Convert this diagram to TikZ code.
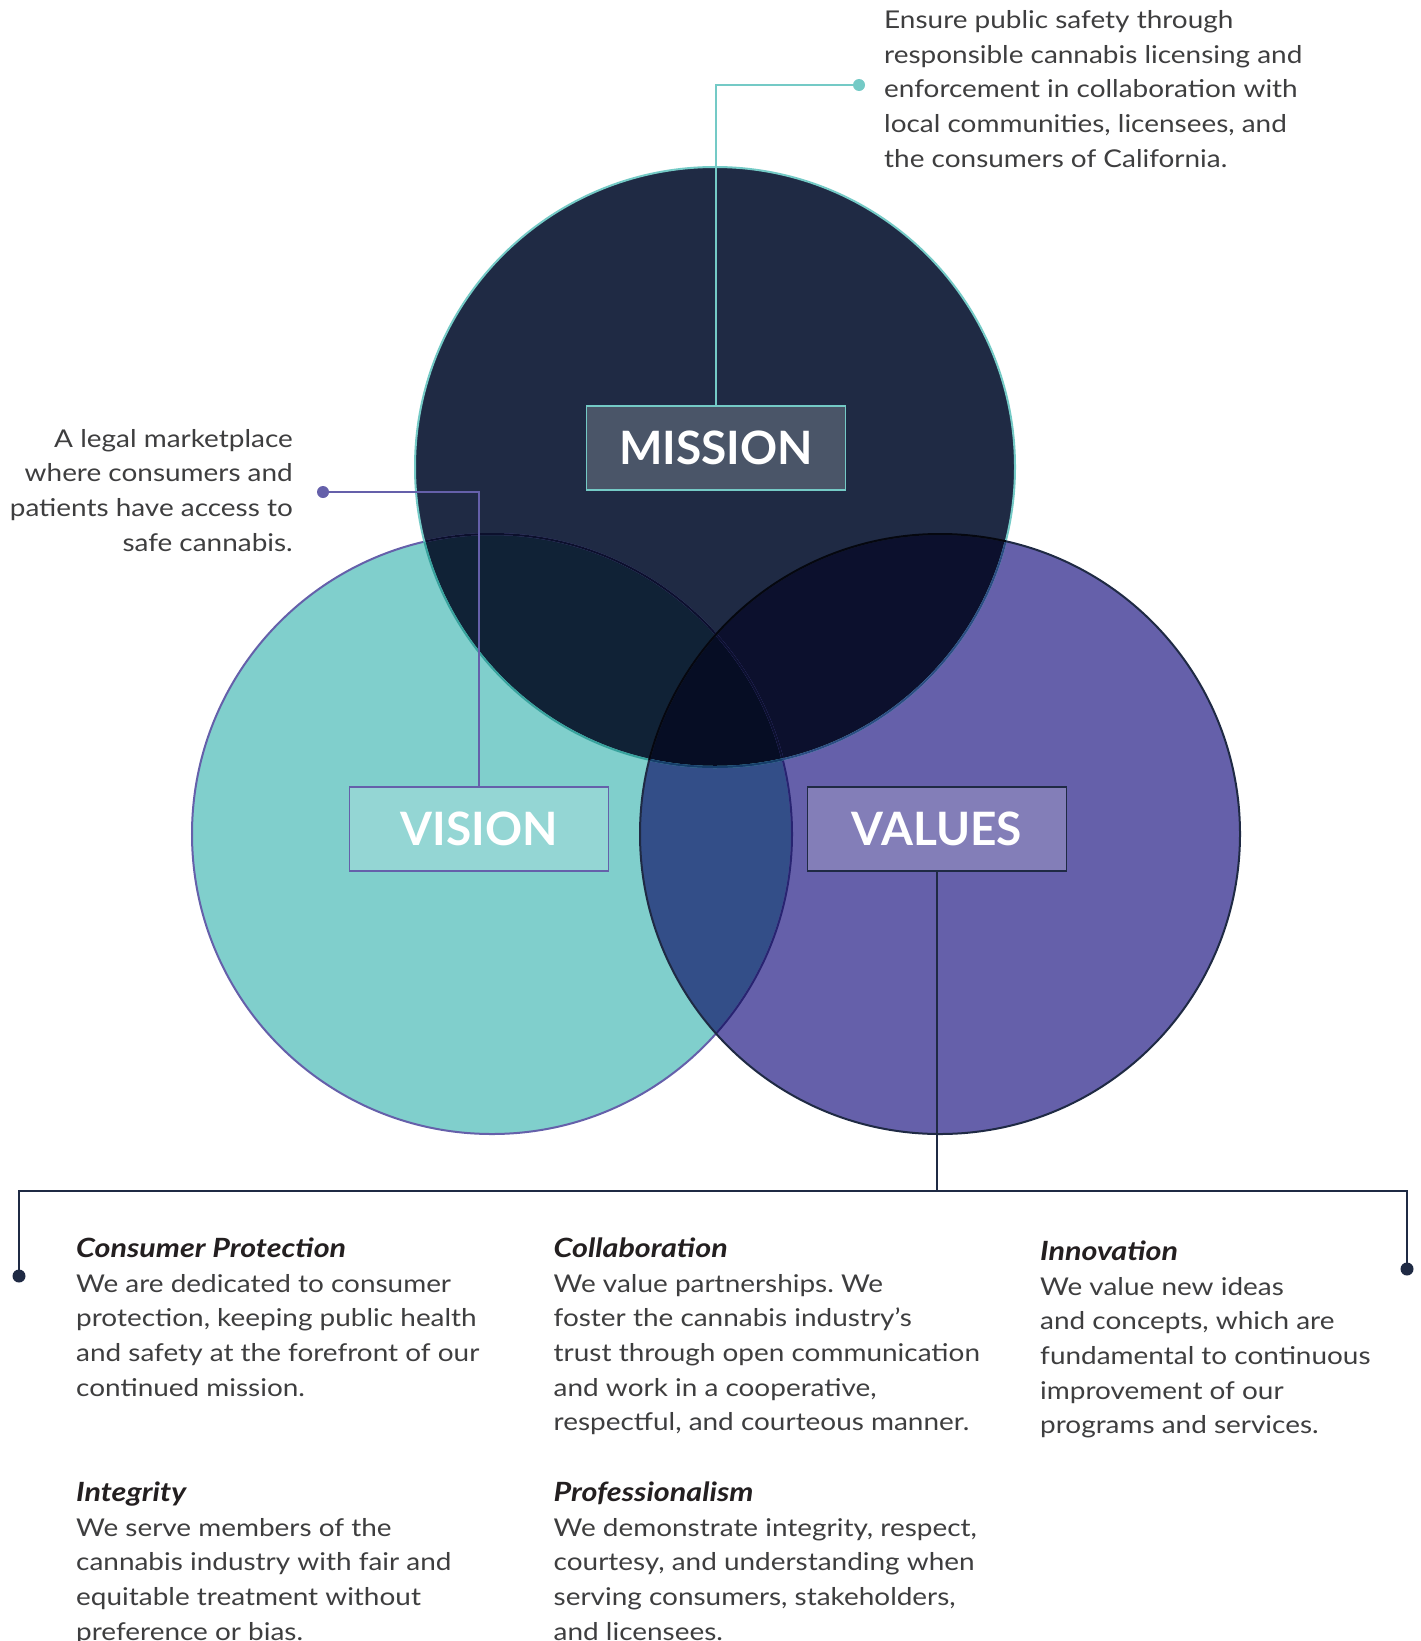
\documentclass[tikz,border=0pt]{standalone}
\usepackage{fontspec}
\setmainfont{Lato}[FakeStretch=1.14]
\newfontfamily\headfont{Lato}[FakeStretch=1.15]
\newfontfamily\labelfont{Lato}
\frenchspacing
\definecolor{cnavy}{HTML}{1F2A44}
\definecolor{cteal}{HTML}{80CFCC}
\definecolor{cpurple}{HTML}{6560AA}
\definecolor{ctealline}{HTML}{74CAC6}
\definecolor{cVVa}{HTML}{334E88}
\definecolor{cMV}{HTML}{102236}
\definecolor{cMVa}{HTML}{0C102D}
\definecolor{cMVVa}{HTML}{060D24}
\definecolor{cmissbox}{HTML}{4A5568}
\definecolor{cvisbox}{HTML}{94D6D4}
\definecolor{cvalbox}{HTML}{837EB8}
\definecolor{cbody}{HTML}{3E3E3F}
\definecolor{chead}{HTML}{231F20}
\definecolor{cTT}{HTML}{38A29D}
\definecolor{cTP}{HTML}{2C4B83}
\definecolor{cTTP}{HTML}{163D69}
\definecolor{cPP}{HTML}{282471}
\definecolor{cNN}{HTML}{05070F}
\newcommand{\valhead}[1]{{\headfont\fontsize{26.5bp}{34.6bp}\selectfont\color{chead}\bfseries\itshape #1}}
\begin{document}
\begin{tikzpicture}[x=1bp,y=-1bp,
  bodytext/.style={font=\fontsize{24.5bp}{34.6bp}\selectfont, text=cbody, inner sep=0pt},
  labelbox/.style={minimum width=259bp, minimum height=84bp, inner sep=0pt, line width=1.5bp, text=white, font=\labelfont\fontsize{46bp}{50bp}\selectfont\bfseries},
  rim/.style={line width=2bp},
  conn/.style={line width=2.2bp},
  bracket/.style={line width=2.6bp, cnavy}
]
\useasboundingbox (0,0) rectangle (1421,1641);
\fill[white] (0,0) rectangle (1421,1641);

\coordinate (Mc) at (715,467);
\coordinate (Vc) at (492,834);
\coordinate (Ac) at (940,834);

% circle fills (multiply-like overlaps)
\fill[cteal] (Vc) circle[radius=300bp];
\fill[cpurple] (Ac) circle[radius=300bp];
\fill[cnavy] (Mc) circle[radius=300bp];
\begin{scope}
  \clip (Vc) circle[radius=300bp];
  \fill[cVVa] (Ac) circle[radius=300bp];
  \fill[cMV] (Mc) circle[radius=300bp];
\end{scope}
\begin{scope}
  \clip (Ac) circle[radius=300bp];
  \fill[cMVa] (Mc) circle[radius=300bp];
\end{scope}
\begin{scope}
  \clip (Vc) circle[radius=300bp];
  \clip (Ac) circle[radius=300bp];
  \fill[cMVVa] (Mc) circle[radius=300bp];
\end{scope}

% rims
\draw[rim, cpurple] (Vc) circle[radius=300bp];
\begin{scope}
  \clip (Ac) circle[radius=300bp];
  \draw[rim, cPP] (Vc) circle[radius=300bp];
\end{scope}
\begin{scope}
  \clip (Mc) circle[radius=300bp];
  \draw[rim, cMVa] (Vc) circle[radius=300bp];
\end{scope}
\draw[rim, ctealline] (Mc) circle[radius=300bp];
\begin{scope}
  \clip (Vc) circle[radius=300bp];
  \draw[rim, cTT] (Mc) circle[radius=300bp];
\end{scope}
\begin{scope}
  \clip (Ac) circle[radius=300bp];
  \draw[rim, cTP] (Mc) circle[radius=300bp];
\end{scope}
\begin{scope}
  \clip (Vc) circle[radius=300bp];
  \clip (Ac) circle[radius=300bp];
  \draw[rim, cTTP] (Mc) circle[radius=300bp];
\end{scope}
\draw[rim, cnavy] (Ac) circle[radius=300bp];
\begin{scope}
  \clip (Mc) circle[radius=300bp];
  \draw[rim, cNN] (Ac) circle[radius=300bp];
\end{scope}

% label boxes
\node[labelbox, fill=cmissbox, draw=ctealline] (mission) at (716,448) {MISSION};
\node[labelbox, fill=cvisbox, draw=cpurple] (vision) at (479,829) {VISION};
\node[labelbox, fill=cvalbox, draw=cnavy] (values) at (937,829) {VALUES};

% connectors
\coordinate (mdot) at (859,85);
\coordinate (vdot) at (323,492);
\coordinate (barY) at (0,1191);
\coordinate (ldot) at (19,1276);
\coordinate (rdot) at (1407,1269);

\draw[conn, ctealline] (mission.north) |- (mdot);
\fill[ctealline] (mdot) circle[radius=6bp];
\draw[conn, cpurple] (vision.north) |- (vdot);
\fill[cpurple] (vdot) circle[radius=6bp];
\draw[bracket] (values.south) -- (values.south |- barY);
\draw[bracket] (ldot) |- (rdot |- barY) -- (rdot);
\fill[cnavy] (ldot) circle[radius=6.5bp];
\fill[cnavy] (rdot) circle[radius=6.5bp];

% texts
\node[bodytext, align=left, anchor=north west] (missiontext) at (884,8.5)
  {\rule{0pt}{20bp}Ensure public safety through\\responsible cannabis licensing and\\enforcement in collaboration with\\local communities, licensees, and\\the consumers of California.};
\node[bodytext, align=right, anchor=north east] (visiontext) at (293,427)
  {\rule{0pt}{20bp}A legal marketplace\\where consumers and\\patients have access to\\safe cannabis.};

\node[bodytext, align=left, anchor=north west] (consumer) at (76,1237.5)
  {\rule{0pt}{20bp}\valhead{Consumer Protection}\\We are dedicated to consumer\\protection, keeping public health\\and safety at the forefront of our\\continued mission.};
\node[bodytext, align=left, anchor=north west] (collab) at (553.5,1237.5)
  {\rule{0pt}{20bp}\valhead{Collaboration}\\We value partnerships. We\\foster the cannabis industry’s\\trust through open communication\\and work in a cooperative,\\respectful, and courteous manner.};
\node[bodytext, align=left, anchor=north west] (innov) at (1040,1240.5)
  {\rule{0pt}{20bp}\valhead{Innovation}\\We value new ideas\\and concepts, which are\\fundamental to continuous\\improvement of our\\programs and services.};
\node[bodytext, align=left, anchor=north west] (integ) at (76,1481.5)
  {\rule{0pt}{20bp}\valhead{Integrity}\\We serve members of the\\cannabis industry with fair and\\equitable treatment without\\preference or bias.};
\node[bodytext, align=left, anchor=north west] (prof) at (553.5,1481.5)
  {\rule{0pt}{20bp}\valhead{Professionalism}\\We demonstrate integrity, respect,\\courtesy, and understanding when\\serving consumers, stakeholders,\\and licensees.};
\end{tikzpicture}
\end{document}
